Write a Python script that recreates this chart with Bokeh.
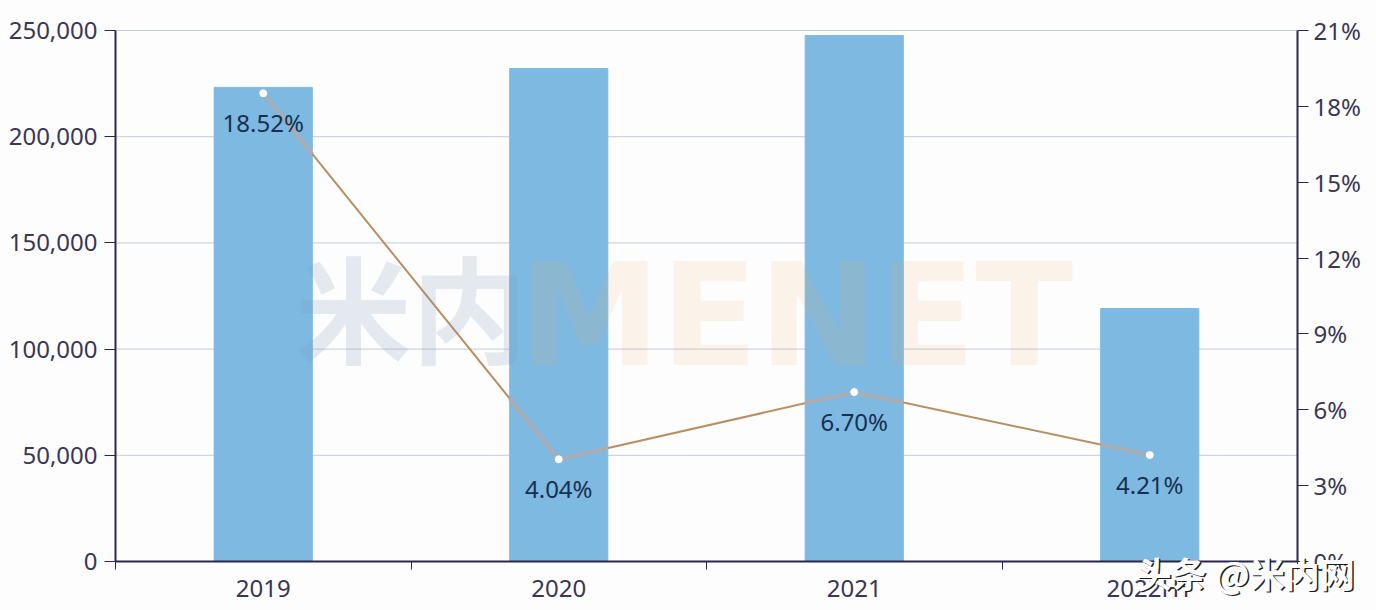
from bokeh.core.properties import value
from bokeh.embed import file_html
from bokeh.models import FixedTicker, Label, LinearAxis, NumeralTickFormatter, Range1d
from bokeh.plotting import figure
from bokeh.resources import INLINE

# data
years = ["2019", "2020", "2021", "2022HY"]
sales = [223200, 232100, 247600, 119100]
growth = [18.52, 4.04, 6.70, 4.21]
growth_labels = ["18.52%", "4.04%", "6.70%", "4.21%"]

left_ticks = [0, 50000, 100000, 150000, 200000, 250000]
right_ticks = [0, 3, 6, 9, 12, 15, 18, 21]

INK = "#2b2748"
TEXT = "#3a3654"
FONT = "Noto Sans"
BAR_W = 0.332

W, H = 1376, 610
LEFT, RIGHT, TOP, BOTTOM = 115, 1297, 30, 561  # plot box in pixels

centers = [i + 0.5 for i in range(len(years))]
n = len(years)


def pad_range(top_value, low_px, high_px, span_px):
    # range that leaves room for the axes, which sit inside the frame so that
    # the corner stamp can run over them
    per_px = top_value / span_px
    return Range1d(-low_px * per_px, top_value + high_px * per_px)


p = figure(width=W, height=H, output_backend="svg", toolbar_location=None,
           x_range=pad_range(n, LEFT, W - RIGHT, RIGHT - LEFT),
           y_range=pad_range(250000, H - BOTTOM, TOP, BOTTOM - TOP),
           min_border=0, background_fill_color="#fdfdfe", border_fill_color="#fdfdfe",
           outline_line_color=None, x_axis_location=None, y_axis_location=None)
p.extra_y_ranges = {"pct": pad_range(21, H - BOTTOM, TOP, BOTTOM - TOP)}

# grid lines stop at the axes
p.grid.visible = False
p.segment([0] * len(left_ticks), left_ticks, [n] * len(left_ticks), left_ticks,
          color="#c3cad9", line_width=1)

# bars
p.vbar(x=centers, top=sales, width=BAR_W, color="#7eb9e2")

# growth line, greyer and thicker where it crosses a bar
p.line(centers, growth, y_range_name="pct", color="#b98f62", line_width=2)
x0, y0, x1, y1 = [], [], [], []
for i in range(len(centers) - 1):
    step = (growth[i + 1] - growth[i]) * BAR_W / 2
    x0 += [centers[i], centers[i + 1] - BAR_W / 2]
    y0 += [growth[i], growth[i + 1] - step]
    x1 += [centers[i] + BAR_W / 2, centers[i + 1]]
    y1 += [growth[i] + step, growth[i + 1]]
p.segment(x0, y0, x1, y1, y_range_name="pct", color="#a9aeb4", line_width=4)
p.scatter(centers, growth, y_range_name="pct", size=7, color="white")

p.text(centers, growth, text=growth_labels, y_range_name="pct", y_offset=29,
       text_align="center", text_baseline="middle", text_color="#17304f",
       text_font=value(FONT), text_font_size="24px")

# watermark
p.add_layout(Label(x=0.609, y=121000, text="米内", text_font="Noto Sans CJK SC",
                   text_font_size="116px", text_font_style="bold", text_color="#7d9cb4",
                   text_alpha=0.2, text_baseline="alphabetic", text_align="left"))
p.add_layout(Label(x=1.363, y=115800, text="MENET", text_font="DejaVu Sans",
                   text_font_size="143px", text_font_style="bold", text_color="#f0a868",
                   text_alpha=0.13, text_baseline="alphabetic", text_align="left"))

# axes
xa = LinearAxis(fixed_location=0, bounds=(0, n),
                ticker=FixedTicker(ticks=centers, minor_ticks=list(range(n + 1))))
xa.major_label_overrides = {c: y for c, y in zip(centers, years)}
xa.major_tick_line_color = None
xa.minor_tick_line_color = INK
xa.minor_tick_out = 8
xa.minor_tick_in = 0
xa.major_label_standoff = 1

ya = LinearAxis(fixed_location=0, bounds=(0, 250000), ticker=FixedTicker(ticks=left_ticks))
ya.formatter = NumeralTickFormatter(format="0,0")
ya.major_label_standoff = 7

yr = LinearAxis(y_range_name="pct", fixed_location=n, bounds=(0, 21),
                ticker=FixedTicker(ticks=right_ticks))
yr.major_label_overrides = {t: f"{t}%" for t in right_ticks}
yr.major_label_standoff = 5

for ax in (ya, yr):
    ax.minor_tick_line_color = None
    ax.major_tick_line_color = INK
    ax.major_tick_out = 11
    ax.major_tick_in = 0

for ax in (xa, ya, yr):
    ax.axis_line_color = INK
    ax.axis_line_width = 2
    ax.major_label_text_font = FONT
    ax.major_label_text_font_size = "24px"
    ax.major_label_text_color = TEXT

p.add_layout(xa, "below")
p.add_layout(ya, "left")
p.add_layout(yr, "right")

# site stamp in the corner, white over a dark copy
stamp = "头条 @米内网"
for dx, color in ((1.5, "#1a1a1a"), (0, "white")):
    p.add_layout(Label(x=1136 + dx, y=13 - dx, x_units="screen", y_units="screen", text=stamp,
                       text_font="Noto Sans CJK SC", text_font_size="35px", text_font_style="bold",
                       text_color=color, text_baseline="bottom", text_align="left"))

open("out.html", "w").write(file_html(p, INLINE))
